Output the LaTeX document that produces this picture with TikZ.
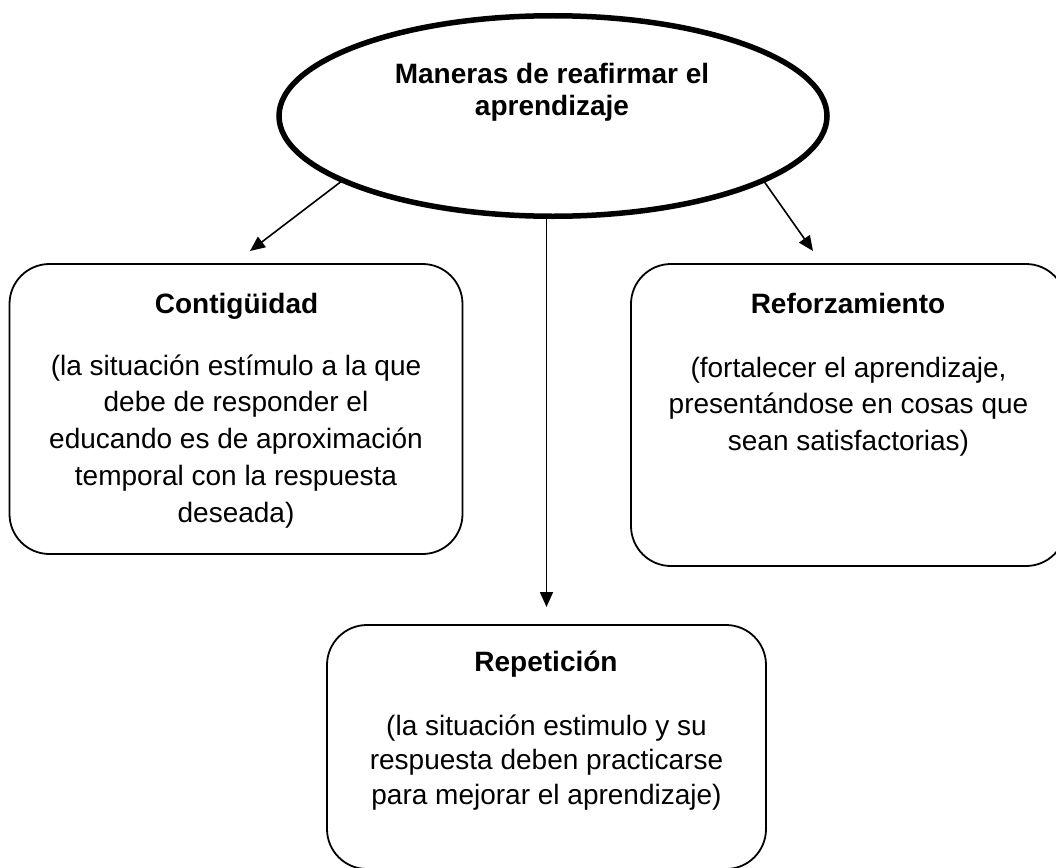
\documentclass[tikz,border=0pt]{standalone}
\usepackage{fontspec}
\setmainfont{Liberation Sans}
\usetikzlibrary{arrows.meta,shapes.geometric}
\begin{document}
\begin{tikzpicture}[x=1pt,y=-1pt,
  box/.style={draw, line width=1.8pt, rounded corners=40pt, inner sep=0pt, outer sep=0pt},
  ttl/.style={font=\fontsize{28}{32}\selectfont\bfseries, anchor=base, inner sep=0pt, outer sep=0pt},
  bodytxt/.style={font=\fontsize{28}{36.8}\selectfont, align=center, anchor=north, inner sep=0pt, outer sep=0pt},
  arr/.style={line width=1.6pt, -{Triangle[length=15pt,width=13pt]}}]
\useasboundingbox (0,0) rectangle (1056,867);
% central ellipse
\node[ellipse, draw, line width=5.5pt, minimum width=548pt, minimum height=200.5pt,
      inner sep=0pt, outer sep=0pt] (ell) at (553,116) {};
\node[font=\fontsize{28}{32}\selectfont\bfseries, align=center, anchor=north,
      inner sep=0pt, outer sep=0pt] (mtitle) at (552,61.5)
      {\rule{0pt}{22pt}Maneras de reafirmar el\\aprendizaje};
% boxes
\node[box, minimum width=453pt, minimum height=290pt] (cont) at (236,409) {};
\node[box, minimum width=435pt, minimum height=302pt] (refo) at (848.5,415) {};
\node[box, minimum width=439pt, minimum height=244pt] (repe) at (546.5,747) {};
% titles
\node[ttl] (conttitle) at (236.5,313.3) {Contigüidad};
\node[ttl] (refotitle) at (848,313.3) {Reforzamiento};
\node[ttl] (repetitle) at (546,671.7) {Repetición};
% bodies
\node[bodytxt] (contbody) at (236,353)
  {\rule{0pt}{22pt}(la situación estímulo a la que\\debe de responder el\\educando es de aproximación\\temporal con la respuesta\\deseada)};
\node[bodytxt] (refobody) at (848.5,355)
  {\rule{0pt}{22pt}(fortalecer el aprendizaje,\\presentándose en cosas que\\sean satisfactorias)};
\node[bodytxt, font=\fontsize{28}{34.5}\selectfont] (repebody) at (546.5,713)
  {\rule{0pt}{22pt}(la situación estimulo y su\\respuesta deben practicarse\\para mejorar el aprendizaje)};
% connectors
\coordinate (tipL) at (250,251);
\coordinate (tipR) at (813,251);
\draw[arr] (ell.197) -- (tipL);
\draw[arr] (ell.-17) -- (tipR);
\draw[arr, shorten >=18pt] (ell.south -| repe.north) -- (repe.north);
\end{tikzpicture}
\end{document}
